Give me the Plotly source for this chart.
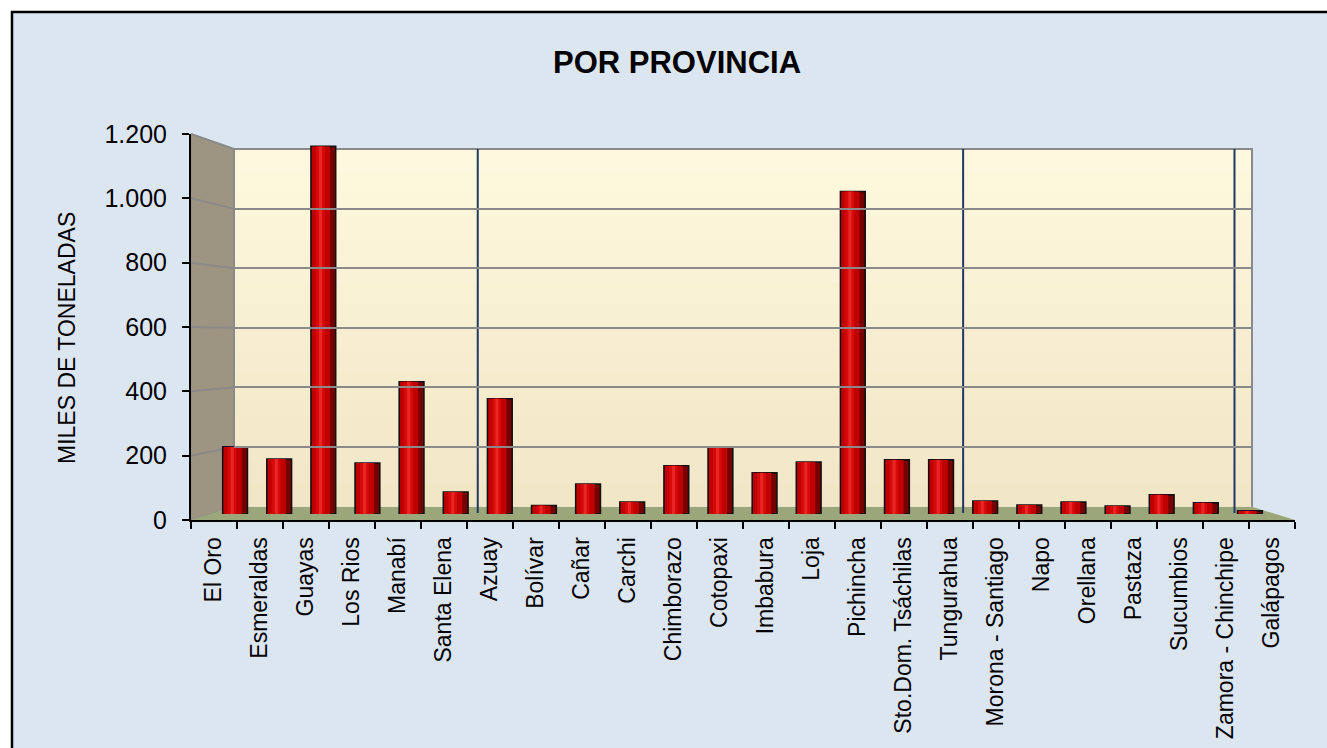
import plotly.graph_objects as go

# ---------------- data ----------------
provincias = ["El Oro", "Esmeraldas", "Guayas", "Los Rios", "Manabí", "Santa Elena",
              "Azuay", "Bolívar", "Cañar", "Carchi", "Chimborazo", "Cotopaxi",
              "Imbabura", "Loja", "Pichincha", "Sto.Dom. Tsáchilas", "Tungurahua",
              "Morona - Santiago", "Napo", "Orellana", "Pastaza", "Sucumbios",
              "Zamora - Chinchipe", "Galápagos"]
miles_toneladas = [217, 178, 1189, 165, 428, 71,
                   373, 27, 97, 39, 156, 217,
                   133, 168, 1043, 175, 175,
                   42, 29, 39, 26, 62,
                   36, 10]
y_ticks = [0, 200, 400, 600, 800, 1000, 1200]
# region boundaries (Costa | Sierra | Oriente | Insular), in category units
region_breaks = [5.5, 16.5, 22.65]

W, H = 1327, 748
FONT = "Liberation Sans, Arial, sans-serif"

def px(x):
    return x / W

def py(y):
    return 1 - y / H

# geometry of the pseudo-3D box (pixels)
FX0, FX1, FY0, FY1 = 191, 1295, 520, 134      # front axes
BX0, BX1, BY0, BY1 = 234, 1252, 506.7, 149     # back wall
BAR_X0, BAR_X1, BAR_Y0 = 213, 1272, 514
BAR_SCALE = (BY0 - BY1) / 1200 * 0.53 + (FY0 - FY1) / 1200 * 0.47
BAR_Y1 = BAR_Y0 - 1200 * BAR_SCALE

fig = go.Figure()

# invisible trace for the front axes (labels / ticks)
fig.add_trace(go.Scatter(x=provincias, y=miles_toneladas, mode="markers",
                         marker=dict(opacity=0), hoverinfo="skip",
                         showlegend=False, xaxis="x", yaxis="y"))
# invisible trace for back wall grid
fig.add_trace(go.Scatter(x=[0, 1], y=[0, 1200], mode="markers",
                         marker=dict(opacity=0), hoverinfo="skip",
                         showlegend=False, xaxis="x3", yaxis="y3"))

# cylinder-like bars built from layered bars
layers = [
    dict(width=0.56, offset=-0.28, color="#760000", line=dict(color="#111111", width=1.6)),
    dict(width=0.41, offset=-0.26, color="#c00000", line=dict(width=0)),
    dict(width=0.20, offset=-0.17, color="#d60a0a", line=dict(width=0)),
    dict(width=0.07, offset=-0.10, color="#e82626", line=dict(width=0)),
]
for i, ly in enumerate(layers):
    fig.add_trace(go.Bar(x=provincias, y=miles_toneladas, width=ly["width"],
                         offset=ly["offset"],
                         marker=dict(color=ly["color"], line=ly["line"]),
                         showlegend=False, hoverinfo=None if i == 0 else "skip",
                         xaxis="x2", yaxis="y2"))

shapes = []
# chart background with border
shapes.append(dict(type="rect", xref="paper", yref="paper",
                   x0=px(12), x1=px(W + 20), y0=py(12), y1=py(H + 20),
                   fillcolor="#dce6f1", line=dict(color="#000000", width=2.5),
                   layer="below"))
# side wall
shapes.append(dict(type="path", xref="paper", yref="paper",
                   path=f"M {px(FX0)},{py(FY1)} L {px(BX0)},{py(BY1)} L {px(BX0)},{py(BY0)} L {px(FX0)},{py(FY0)} Z",
                   fillcolor="#9d9581", line=dict(color="#8c8c8c", width=1), layer="below"))
# floor
shapes.append(dict(type="path", xref="paper", yref="paper",
                   path=f"M {px(FX0)},{py(FY0)} L {px(BX0)},{py(BY0)} L {px(BX1)},{py(BY0)} L {px(FX1)},{py(FY0)} Z",
                   fillcolor="#9ba67b", line=dict(color="#9ba67b", width=0), layer="below"))
# back wall gradient
n = 16
top_c, bot_c = (254, 248, 222), (241, 230, 198)
for i in range(n):
    t = i / (n - 1)
    c = tuple(int(round(top_c[k] + (bot_c[k] - top_c[k]) * t)) for k in range(3))
    y0 = BY1 + (BY0 - BY1) * i / n
    y1 = BY1 + (BY0 - BY1) * (i + 1) / n + 0.6
    shapes.append(dict(type="rect", xref="paper", yref="paper",
                       x0=px(BX0), x1=px(BX1), y0=py(y0), y1=py(min(y1, BY0)),
                       fillcolor=f"rgb{c}", line=dict(width=0), layer="below"))
# back wall border
shapes.append(dict(type="path", xref="paper", yref="paper",
                   path=f"M {px(BX0)},{py(BY0)} L {px(BX0)},{py(BY1)} L {px(BX1)},{py(BY1)} L {px(BX1)},{py(BY0)}",
                   line=dict(color="#8a8a8a", width=2), layer="below"))
# side-wall grid lines
for v in y_ticks[1:]:
    yf = FY0 - v * (FY0 - FY1) / 1200
    yb = BY0 - v * (BY0 - BY1) / 1200
    shapes.append(dict(type="line", xref="paper", yref="paper",
                       x0=px(FX0), x1=px(BX0), y0=py(yf), y1=py(yb),
                       line=dict(color="#8a8a8a", width=2), layer="below"))
# region separators
for b in region_breaks:
    shapes.append(dict(type="line", xref="x2", yref="paper",
                       x0=b, x1=b, y0=py(513), y1=py(BY1),
                       line=dict(color="#1f3864", width=2), layer="between"))

fig.update_layout(
    template="none",
    width=W, height=H,
    autosize=False,
    margin=dict(l=0, r=0, t=0, b=0, pad=0),
    paper_bgcolor="#ffffff",
    plot_bgcolor="rgba(0,0,0,0)",
    separators=",.",
    barmode="overlay",
    showlegend=False,
    font=dict(family=FONT, color="#000000"),
    shapes=shapes,
    title=dict(text="<b>POR PROVINCIA</b>", x=px(677), xanchor="center",
               y=py(62), yanchor="middle", yref="container", xref="container",
               font=dict(family=FONT, size=31, color="#000000")),
    annotations=[dict(text="MILES DE TONELADAS", textangle=-90,
                      x=px(67), y=py(338), xref="paper", yref="paper",
                      xanchor="center", yanchor="middle",
                      showarrow=False, font=dict(family=FONT, size=23, color="#000000"))],
    xaxis=dict(domain=[px(FX0), px(FX1)], anchor="y", type="category",
               categoryorder="array", categoryarray=provincias,
               range=[-0.5, len(provincias) - 0.5], tickson="boundaries",
               ticks="outside", ticklen=7, tickwidth=2, tickcolor="#000000",
               showline=True, linecolor="#000000", linewidth=2,
               showgrid=False, zeroline=False, tickangle=-90,
               ticklabelstandoff=6, automargin=False,
               tickfont=dict(family=FONT, size=23, color="#000000"),
               fixedrange=True),
    yaxis=dict(domain=[py(FY0), py(FY1)], anchor="x", range=[0, 1200],
               tickvals=y_ticks, tickformat=",d",
               ticks="outside", ticklen=7, tickwidth=2, tickcolor="#000000",
               showline=True, linecolor="#000000", linewidth=2,
               showgrid=False, zeroline=False, ticklabelstandoff=10,
               automargin=False,
               tickfont=dict(family=FONT, size=25, color="#000000"),
               fixedrange=True),
    xaxis2=dict(domain=[px(BAR_X0), px(BAR_X1)], anchor="y2", type="category",
                categoryorder="array", categoryarray=provincias,
                range=[-0.5, len(provincias) - 0.5], visible=False,
                automargin=False, fixedrange=True),
    yaxis2=dict(domain=[py(BAR_Y0), py(BAR_Y1)], anchor="x2", range=[0, 1200],
                visible=False, automargin=False, fixedrange=True),
    xaxis3=dict(domain=[px(BX0), px(BX1)], anchor="y3", range=[0, 1],
                visible=False, automargin=False, fixedrange=True),
    yaxis3=dict(domain=[py(BY0), py(BY1)], anchor="x3", range=[0, 1200],
                tickvals=y_ticks, showgrid=True, gridcolor="#8a8a8a", gridwidth=2,
                showticklabels=False, ticks="", zeroline=False, showline=False,
                automargin=False, fixedrange=True),
)

fig.write_html("out.html",
               config={"displayModeBar": False},
               post_script="document.body.style.margin='0';document.body.style.overflow='hidden';")
